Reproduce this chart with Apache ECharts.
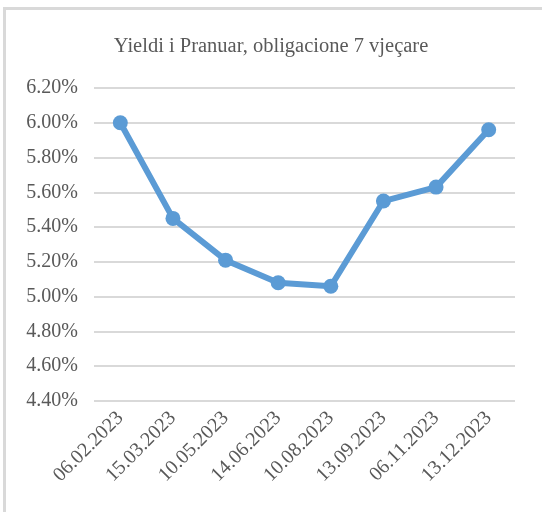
<!DOCTYPE html>
<html><head><meta charset="utf-8">
<script src="https://cdn.jsdelivr.net/npm/echarts@6/dist/echarts.min.js"></script>
<style>html,body{margin:0;padding:0;background:#fff}#c{width:542px;height:512px}</style>
</head><body><div id="c"></div>
<script>
const titleText = "Yieldi i Pranuar, obligacione 7 vjeçare";
const categories = ["06.02.2023","15.03.2023","10.05.2023","14.06.2023","10.08.2023","13.09.2023","06.11.2023","13.12.2023"];
const yields = [6.00, 5.45, 5.21, 5.08, 5.06, 5.55, 5.63, 5.96];
const yMin = 4.4, yMax = 6.2, yStep = 0.2;

const chart = echarts.init(document.getElementById('c'));
const font = '"Liberation Serif", "Times New Roman", serif';
chart.setOption({
  animation: false,
  title: {
    text: titleText, left: 'center', top: 31,
    textStyle: {fontFamily: font, fontSize: 20.5, fontWeight: 'normal', color: '#595959'}
  },
  grid: {left: 94, right: 27, top: 88, bottom: 111},
  xAxis: {
    type: 'category', data: categories, boundaryGap: true,
    axisLine: {show: false}, axisTick: {show: false},
    axisLabel: {rotate: 45, fontFamily: font, fontSize: 20, color: '#595959', margin: 14, interval: 0}
  },
  yAxis: {
    type: 'value', min: yMin, max: yMax, interval: yStep,
    axisLine: {show: false}, axisTick: {show: false},
    splitLine: {lineStyle: {color: '#d9d9d9', width: 2}},
    axisLabel: {fontFamily: font, fontSize: 20, color: '#595959', margin: 16,
      formatter: v => v.toFixed(2) + '%'}
  },
  series: [{
    type: 'line', data: yields,
    lineStyle: {color: '#5b9bd5', width: 6},
    itemStyle: {color: '#5b9bd5'},
    symbol: 'circle', symbolSize: 15
  }],
  graphic: [
    {type: 'rect', shape: {x: 3, y: 7, width: 3, height: 505}, style: {fill: '#d9d9d9'}, silent: true},
    {type: 'rect', shape: {x: 3, y: 7, width: 539, height: 3}, style: {fill: '#d9d9d9'}, silent: true}
  ]
});
</script></body></html>
